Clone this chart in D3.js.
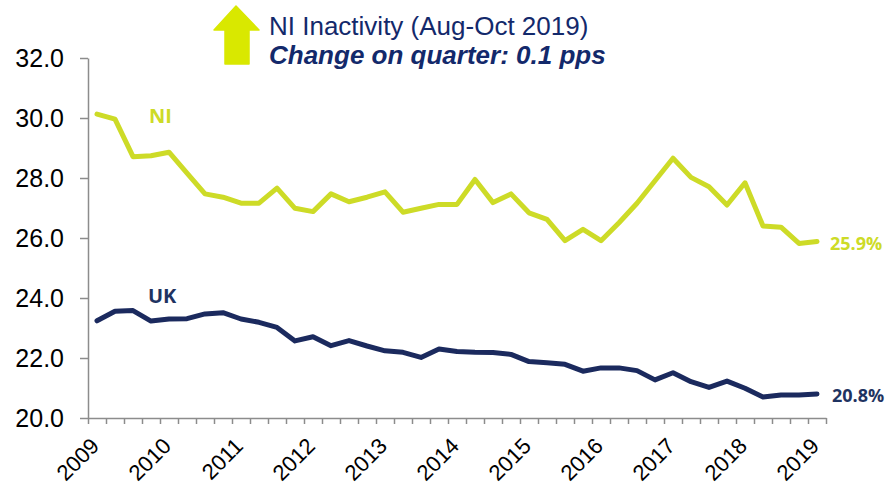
<!DOCTYPE html>
<html>
<head>
<meta charset="utf-8">
<script src="https://cdn.jsdelivr.net/npm/d3@7"></script>
<style>
  body { margin: 0; background: #fff; }
  svg { display: block; }
</style>
</head>
<body>
<svg width="885" height="485"></svg>
<script>
const quarters = [
  "Aug-Oct 2009", "Nov-Jan 2010", "Feb-Apr 2010", "May-Jul 2010",
  "Aug-Oct 2010", "Nov-Jan 2011", "Feb-Apr 2011", "May-Jul 2011",
  "Aug-Oct 2011", "Nov-Jan 2012", "Feb-Apr 2012", "May-Jul 2012",
  "Aug-Oct 2012", "Nov-Jan 2013", "Feb-Apr 2013", "May-Jul 2013",
  "Aug-Oct 2013", "Nov-Jan 2014", "Feb-Apr 2014", "May-Jul 2014",
  "Aug-Oct 2014", "Nov-Jan 2015", "Feb-Apr 2015", "May-Jul 2015",
  "Aug-Oct 2015", "Nov-Jan 2016", "Feb-Apr 2016", "May-Jul 2016",
  "Aug-Oct 2016", "Nov-Jan 2017", "Feb-Apr 2017", "May-Jul 2017",
  "Aug-Oct 2017", "Nov-Jan 2018", "Feb-Apr 2018", "May-Jul 2018",
  "Aug-Oct 2018", "Nov-Jan 2019", "Feb-Apr 2019", "May-Jul 2019",
  "Aug-Oct 2019"
];

const niRate = [30.13, 29.96, 28.71, 28.74, 28.86, 28.16, 27.47, 27.36, 27.16, 27.16,
  27.66, 26.99, 26.88, 27.47, 27.21, 27.36, 27.54, 26.86, 26.99, 27.12,
  27.12, 27.95, 27.18, 27.47, 26.84, 26.62, 25.91, 26.29, 25.91, 26.51,
  27.16, 27.91, 28.66, 28.02, 27.71, 27.10, 27.84, 26.40, 26.36, 25.82, 25.88];

const ukRate = [23.24, 23.56, 23.58, 23.23, 23.30, 23.31, 23.47, 23.51, 23.30, 23.19,
  23.02, 22.57, 22.71, 22.41, 22.58, 22.40, 22.24, 22.19, 22.02, 22.30,
  22.22, 22.19, 22.18, 22.12, 21.88, 21.84, 21.79, 21.56, 21.67, 21.67,
  21.58, 21.27, 21.51, 21.21, 21.02, 21.23, 20.99, 20.70, 20.77, 20.77, 20.80];

const yearLabels = ["2009", "2010", "2011", "2012", "2013", "2014", "2015", "2016", "2017", "2018", "2019"];
const yTicks = [20, 22, 24, 26, 28, 30, 32];

const niColor = "#cddb27";
const ukColor = "#1b2a5e";
const greyAxis = "#8c8c8c";

const svg = d3.select("svg");

const plotLeft = 88, plotRight = 826, plotTop = 58, plotBottom = 418;

const x = d3.scaleBand().domain(quarters).range([plotLeft, plotRight]).padding(0);
const xEdge = d3.scaleLinear().domain([0, quarters.length]).range([plotLeft, plotRight]);
const y = d3.scaleLinear().domain([20, 32]).range([plotBottom, plotTop]);

// x axis - ticks at category boundaries
const xAxis = svg.append("g")
    .attr("transform", `translate(0,${plotBottom})`)
    .call(d3.axisBottom(xEdge).tickValues(d3.range(quarters.length + 1)).tickSize(6).tickSizeOuter(0).tickFormat(""));
xAxis.select(".domain").attr("stroke", greyAxis).attr("stroke-width", 1.5);
xAxis.selectAll(".tick line").attr("stroke", greyAxis).attr("stroke-width", 1.5);

// year labels, every 4th quarter
svg.append("g").selectAll("text")
    .data(yearLabels)
    .join("text")
    .attr("transform", (d, i) => `translate(${x(quarters[i * 4]) + x.bandwidth() / 2 - 2},442) rotate(-45)`)
    .attr("text-anchor", "end")
    .attr("dy", "0.35em")
    .attr("font-family", "'Liberation Sans', Arial, sans-serif")
    .attr("font-size", "22px")
    .attr("fill", "#000")
    .text(d => d);

// y axis
const yAxis = svg.append("g")
    .attr("transform", `translate(${plotLeft},0)`)
    .call(d3.axisLeft(y).tickValues(yTicks).tickSize(8).tickSizeOuter(0).tickPadding(16).tickFormat(d3.format(".1f")));
yAxis.select(".domain").attr("stroke", greyAxis).attr("stroke-width", 1.5);
yAxis.selectAll(".tick line").attr("stroke", greyAxis).attr("stroke-width", 1.5);
yAxis.selectAll(".tick text")
    .attr("font-family", "'Liberation Sans', Arial, sans-serif")
    .attr("font-size", "25px")
    .attr("fill", "#000");

// lines
const line = d3.line()
    .x((d, i) => x(quarters[i]) + x.bandwidth() / 2)
    .y(d => y(d));

svg.append("path")
    .datum(niRate)
    .attr("fill", "none")
    .attr("stroke", niColor)
    .attr("stroke-width", 5)
    .attr("stroke-linejoin", "round")
    .attr("stroke-linecap", "round")
    .attr("d", line);

svg.append("path")
    .datum(ukRate)
    .attr("fill", "none")
    .attr("stroke", ukColor)
    .attr("stroke-width", 5)
    .attr("stroke-linejoin", "round")
    .attr("stroke-linecap", "round")
    .attr("d", line);

// series names
const labelFont = "'Open Sans', 'Noto Sans', sans-serif";
svg.append("text")
    .attr("x", x(quarters[3]) + x.bandwidth() / 2 - 2)
    .attr("y", y(29.85))
    .attr("font-family", labelFont)
    .attr("font-weight", "bold")
    .attr("font-size", "20px")
    .attr("fill", niColor)
    .text("NI");

svg.append("text")
    .attr("x", x(quarters[3]) + x.bandwidth() / 2 - 3)
    .attr("y", y(23.85))
    .attr("font-family", labelFont)
    .attr("font-weight", "bold")
    .attr("font-size", "20px")
    .attr("fill", "#1f3361")
    .text("UK");

// end values
const lastX = x(quarters[quarters.length - 1]) + x.bandwidth() / 2;
svg.append("text")
    .attr("x", lastX + 13)
    .attr("y", y(niRate[niRate.length - 1]))
    .attr("dy", "0.45em")
    .attr("font-family", labelFont)
    .attr("font-weight", "bold")
    .attr("font-size", "18px")
    .attr("fill", niColor)
    .text(niRate[niRate.length - 1].toFixed(1) + "%");

svg.append("text")
    .attr("x", lastX + 15)
    .attr("y", y(ukRate[ukRate.length - 1]))
    .attr("dy", "0.45em")
    .attr("font-family", labelFont)
    .attr("font-weight", "bold")
    .attr("font-size", "18px")
    .attr("fill", "#1f3361")
    .text(ukRate[ukRate.length - 1].toFixed(1) + "%");

// header arrow + titles
svg.append("path")
    .attr("d", "M236,6 L259,30 L249,30 L249,64 L225,64 L225,30 L214,30 Z")
    .attr("fill", "#d9e800")
    .attr("stroke", "#d9e800")
    .attr("stroke-width", 1.5)
    .attr("stroke-linejoin", "round");

svg.append("text")
    .attr("x", 269)
    .attr("y", 35)
    .attr("font-family", "'Liberation Sans', Arial, sans-serif")
    .attr("font-size", "26px")
    .attr("fill", "#13296b")
    .text("NI Inactivity (Aug-Oct 2019)");

svg.append("text")
    .attr("x", 269)
    .attr("y", 64)
    .attr("font-family", "'Liberation Sans', Arial, sans-serif")
    .attr("font-size", "26px")
    .attr("font-weight", "bold")
    .attr("font-style", "italic")
    .attr("fill", "#13296b")
    .text("Change on quarter: 0.1 pps");
</script>
</body>
</html>
